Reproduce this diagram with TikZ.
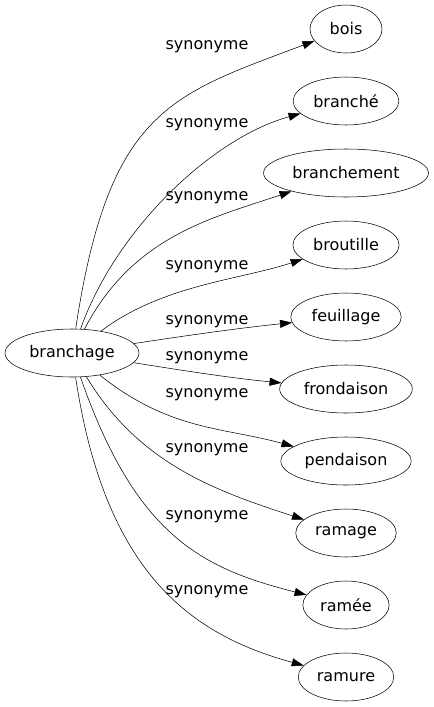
\documentclass[tikz,border=0pt]{standalone}
\usepackage{fontspec}
\setmainfont{DejaVu Sans}
\usetikzlibrary{arrows.meta,shapes.geometric}

\begin{document}
\begin{tikzpicture}[x=0.75pt, y=-0.75pt, >={Triangle[length=9pt,width=6pt]},
  mot/.style={draw, ellipse, inner xsep=3.5pt, minimum width=54pt, minimum height=36pt, font=\fontsize{12}{14}\selectfont},
  lien/.style={font=\fontsize{12}{14}\selectfont}]
\useasboundingbox (0,0) rectangle (433,707);
\node[mot] (branchage) at (72,353) {branchage};
\node[mot] (bois) at (346,29) {bois};
\node[mot] (branche) at (346,101) {branché};
\node[mot] (branchement) at (346,173) {branchement};
\node[mot] (broutille) at (346,245) {broutille};
\node[mot] (feuillage) at (346,317) {feuillage};
\node[mot] (frondaison) at (346,389) {frondaison};
\node[mot] (pendaison) at (346,461) {pendaison};
\node[mot] (ramage) at (346,533) {ramage};
\node[mot] (ramee) at (346,605) {ramée};
\node[mot] (ramure) at (346,677) {ramure};

\draw[->] (branchage) .. controls (109,109) and (171,95) .. (bois);
\draw[->] (branchage) .. controls (116,229) and (212,138) .. (branche);
\draw[->] (branchage) .. controls (133,236) and (212,218) .. (branchement);
\draw[->] (branchage) .. controls (162,285) and (239,280) .. (broutille);
\draw[->] (branchage) .. controls (190,335) and (240,328) .. (feuillage);
\draw[->] (branchage) .. controls (180,370) and (230,378) .. (frondaison);
\draw[->] (branchage) .. controls (170,431) and (223,427) .. (pendaison);
\draw[->] (branchage) .. controls (138,462) and (212,490) .. (ramage);
\draw[->] (branchage) .. controls (136,536) and (201,568) .. (ramee);
\draw[->] (branchage) .. controls (105,574) and (192,635) .. (ramure);

\node[lien] (l1) at (207,47) {synonyme};
\node[lien] (l2) at (207,125) {synonyme};
\node[lien] (l3) at (207,198) {synonyme};
\node[lien] (l4) at (207,267) {synonyme};
\node[lien] (l5) at (207,322) {synonyme};
\node[lien] (l6) at (207,358) {synonyme};
\node[lien] (l7) at (207,395) {synonyme};
\node[lien] (l8) at (207,450) {synonyme};
\node[lien] (l9) at (207,517) {synonyme};
\node[lien] (l10) at (207,592) {synonyme};
\end{tikzpicture}
\end{document}
